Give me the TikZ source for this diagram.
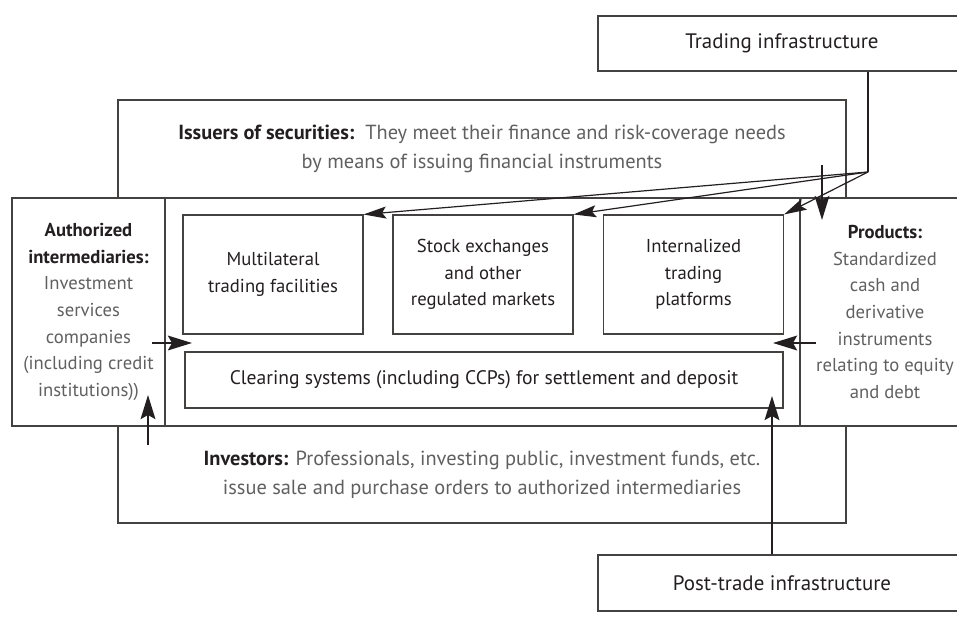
\documentclass[tikz,border=0pt]{standalone}
\usepackage{fontspec}
\setmainfont{PT Sans}
\usetikzlibrary{arrows.meta}

\definecolor{ink}{HTML}{231F20}
\definecolor{descgray}{HTML}{606060}

\begin{document}
\begin{tikzpicture}[x=0.75pt, y=-0.75pt,
  box/.style={draw=ink!85, line width=0.8pt, inner sep=0pt, align=center,
    text=ink, font=\fontsize{14}{20}\selectfont},
  wide/.style={font=\fontsize{15.3}{22}\selectfont},
  infra/.style={font=\fontsize{15.7}{20}\selectfont},
  heavy/.style={-{Stealth[length=18pt, width=11pt, inset=3pt]}, line width=1.8pt, draw=ink},
  branch/.style={-{Stealth[length=17pt, width=9pt, inset=3pt]}, line width=0.9pt, draw=ink}]

  \useasboundingbox (0,0) rectangle (957,621);
  \clip (0,0) rectangle (957,621);

  % --- Infrastructure ---
  \node[box, infra, minimum width=276pt, minimum height=41.25pt] (trade) at (782,43.5)
    {Trading infrastructure};
  \node[box, infra, minimum width=276pt, minimum height=42pt] (post) at (782,583)
    {Post-trade infrastructure};

  % --- Issuers and investors ---
  \node[box, wide, minimum width=546pt, minimum height=73.5pt] (issuers) at (482,149)
    {\textbf{Issuers of securities:}\ \ {\color{descgray}They meet their finance and risk-coverage needs}\\
     {\color{descgray}by means of issuing financial instruments}};
  \node[box, wide, minimum width=546pt, minimum height=72.75pt] (investors) at (482,474.5)
    {\textbf{Investors:} {\color{descgray}Professionals, investing public, investment funds, etc.}\\
     {\color{descgray}issue sale and purchase orders to authorized intermediaries}};

  % --- Middle band ---
  \node[box, minimum width=114.75pt, minimum height=171pt] (auth) at (88.5,312)
    {\textbf{Authorized}\\ \textbf{intermediaries:}\\
     {\color{descgray}Investment}\\ {\color{descgray}services}\\
     {\color{descgray}companies}\\ {\color{descgray}(including credit}\\
     {\color{descgray}institutions))}};
  \node[box, minimum width=476.25pt, minimum height=171pt] (market) at (482.5,312) {};
  \node[box, minimum width=127.5pt, minimum height=171pt] (products) at (885,312)
    {\textbf{Products:}\\ {\color{descgray}Standardized}\\
     {\color{descgray}cash and}\\ {\color{descgray}derivative}\\
     {\color{descgray}instruments}\\ {\color{descgray}relating to equity}\\
     {\color{descgray}and debt}};

  % --- Trading venues ---
  \node[box, minimum width=135pt, minimum height=89.25pt] (multi) at (273,274.5)
    {Multilateral\\ trading facilities};
  \node[box, minimum width=135pt, minimum height=89.25pt] (stock) at (483,274.5)
    {Stock exchanges\\ and other\\ regulated markets};
  \node[box, minimum width=135pt, minimum height=89.25pt] (intern) at (693.5,274.5)
    {Internalized\\ trading\\ platforms};
  \node[box, font=\fontsize{14.7}{20}\selectfont, minimum width=448.5pt,
    minimum height=42pt] (clearing) at (484,380)
    {Clearing systems (including CCPs) for settlement and deposit};

  % --- Branches from trading infrastructure ---
  \coordinate (split) at (868,172);
  \draw[line width=0.9pt, ink] (split |- trade.south) -- (split);
  \foreach \venue in {multi, stock, intern}
    \draw[branch] (split) -- (\venue.north east);

  % --- Arrows into the market ---
  \coordinate (downtop) at (822,165);
  \coordinate (downtip) at (822,220);
  \draw[heavy] (downtop) -- (downtip);

  \coordinate (lefttail) at (152,343);
  \coordinate (lefttip) at (192,343);
  \draw[heavy] (lefttail) -- (lefttip);

  \coordinate (uptail) at (148,445);
  \coordinate (uptip) at (148,395);
  \draw[heavy] (uptail) -- (uptip);

  \coordinate (righttail) at (816,343);
  \coordinate (righttip) at (773,343);
  \draw[heavy] (righttail) -- (righttip);

  \coordinate (posttip) at (772,396);
  \draw[heavy] (post.north -| posttip) -- (posttip);

\end{tikzpicture}
\end{document}
